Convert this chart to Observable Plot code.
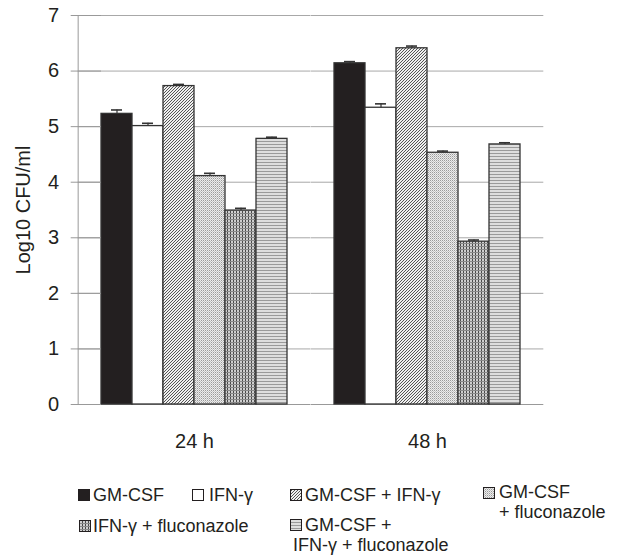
<!DOCTYPE html>
<html><head><meta charset="utf-8">
<script src="https://cdn.jsdelivr.net/npm/d3@7"></script>
<script src="https://cdn.jsdelivr.net/npm/@observablehq/plot@0.6"></script>
<style>
body{margin:0;background:#fff;font-family:Arial,"Liberation Sans",sans-serif;}
#wrap{position:relative;width:619px;height:559px;overflow:hidden}
.lt{position:absolute;font-size:18px;line-height:20.7px;color:#231f20;white-space:nowrap}
</style></head><body>
<svg width="0" height="0" style="position:absolute">
<defs>
<pattern id="p-diag" patternUnits="userSpaceOnUse" width="3" height="3">
<rect width="3" height="3" fill="#f0f0f0"/>
<path d="M-1,1 L1,-1 M0,3 L3,0 M2,4 L4,2" stroke="#555" stroke-width="1"/>
</pattern>
<pattern id="p-dots" patternUnits="userSpaceOnUse" width="2" height="2">
<rect width="2" height="2" fill="#ececec"/>
<rect x="0" y="0" width="1" height="1" fill="#9a9a9a"/>
<rect x="1" y="1" width="1" height="1" fill="#c4c4c4"/>
</pattern>
<pattern id="p-grid" patternUnits="userSpaceOnUse" width="3" height="3">
<rect width="3" height="3" fill="#cfcfcf"/>
<rect x="0" y="0" width="1" height="3" fill="#4a4a4a"/>
<rect x="0" y="0" width="3" height="1" fill="#8a8a8a"/>
</pattern>
<pattern id="p-horiz" patternUnits="userSpaceOnUse" width="3" height="3">
<rect width="3" height="3" fill="#dedede"/>
<rect x="0" y="0" width="3" height="1" fill="#9a9a9a"/>
</pattern>
</defs></svg>
<div id="wrap"><div id="chart"></div></div>
<script>
const groups = ["24 h", "48 h"];
const treatments = ["GM-CSF", "IFN-γ", "GM-CSF + IFN-γ", "GM-CSF + fluconazole", "IFN-γ + fluconazole", "GM-CSF + IFN-γ + fluconazole"];
const values24 = [5.23, 5.01, 5.73, 4.11, 3.49, 4.78];
const errors24 = [0.07, 0.05, 0.03, 0.05, 0.04, 0.03];
const values48 = [6.14, 5.34, 6.41, 4.53, 2.93, 4.68];
const errors48 = [0.03, 0.07, 0.04, 0.03, 0.03, 0.03];
const yTicks = [0, 1, 2, 3, 4, 5, 6, 7];
const fills = ["#231f20", "#ffffff", "url(#p-diag)", "url(#p-dots)", "url(#p-grid)", "url(#p-horiz)"];

const data = groups.flatMap((g, gi) => treatments.map((t, i) => ({
  group: g, treatment: t,
  value: gi === 0 ? values24[i] : values48[i],
  err: gi === 0 ? errors24[i] : errors48[i]
})));
const gridData = groups.flatMap(g => yTicks.map(v => ({group: g, v})));

const W = 619, H = 470, ML = 78, MR = 75, MT = 15, MB = 66;
const fxOpts = {domain: groups, paddingInner: 0.2, paddingOuter: 0.1};
const band = d3.scaleBand(groups, [ML, W - MR]).paddingInner(fxOpts.paddingInner).paddingOuter(fxOpts.paddingOuter);
const half = -(band.step() - band.bandwidth()) / 2; // negative inset reaching the frame edges
const barW = band.bandwidth() / treatments.length;

const chart = Plot.plot({
  width: W, height: H,
  marginLeft: ML, marginRight: MR, marginTop: MT, marginBottom: MB,
  style: {fontFamily: "Arial, 'Liberation Sans', sans-serif", fontSize: "20px", color: "#231f20", background: "white"},
  fx: {...fxOpts, label: null},
  x: {domain: treatments, padding: 0, axis: null},
  y: {domain: [0, 7], label: null, axis: null},
  color: {domain: treatments, range: fills},
  marks: [
    Plot.ruleY(gridData.filter(d => d.v > 0), {fx: "group", y: "v", stroke: "#a8a8a8", strokeWidth: 1, insetLeft: half, insetRight: half}),
    Plot.ruleY(gridData.filter(d => d.v === 0), {fx: "group", y: "v", stroke: "#999", strokeWidth: 1.2, insetLeft: half, insetRight: half}),
    // left axis line, anchored to the first facet's first band and shifted to the frame edge
    Plot.ruleX([{group: groups[0], t: treatments[0]}], {fx: "group", x: "t", y1: 0, y2: 7, dx: half - barW / 2, stroke: "#999", strokeWidth: 1}),
    Plot.barY(data, {fx: "group", x: "treatment", y: "value", fill: "treatment", stroke: "#333", strokeWidth: 1.3}),
    Plot.ruleX(data, {fx: "group", x: "treatment", y1: "value", y2: d => d.value + d.err, stroke: "#333", strokeWidth: 1.2}),
    Plot.tickY(data, {fx: "group", x: "treatment", y: d => d.value + d.err, stroke: "#333", strokeWidth: 1.6, insetLeft: 10, insetRight: 10}),
    Plot.axisY({ticks: yTicks, tickSize: 7 - half, tickPadding: 12, stroke: "#999", tickFormat: d => String(d),
      label: "Log10 CFU/ml", labelAnchor: "center", labelOffset: 62 - half, labelArrow: "none"}),
    Plot.axisFx({anchor: "bottom", tickSize: 0, tickPadding: 29, label: null})
  ]
});
document.getElementById("chart").appendChild(chart);

// legend
const wrap = document.getElementById("wrap");
const legendItems = [
  {i: 0, sx: 78, sy: 489, x: 93, base: 501, lines: ["GM-CSF"]},
  {i: 1, sx: 192, sy: 489, x: 209, base: 501, lines: ["IFN-γ"]},
  {i: 2, sx: 290, sy: 489, x: 305, base: 501, lines: ["GM-CSF + IFN-γ"]},
  {i: 3, sx: 483, sy: 487, x: 499, base: 498, lines: ["GM-CSF", "+ fluconazole"]},
  {i: 4, sx: 79, sy: 520, x: 93, base: 532, lines: ["IFN-γ + fluconazole"]},
  {i: 5, sx: 290, sy: 519, x: 293, indent: 12, base: 531, lines: ["GM-CSF +", "IFN-γ + fluconazole"]}
];
legendItems.forEach(it => {
  const s = document.createElementNS("http://www.w3.org/2000/svg", "svg");
  s.setAttribute("width", 12); s.setAttribute("height", 12);
  s.style.position = "absolute"; s.style.left = it.sx + "px"; s.style.top = it.sy + "px";
  const r = document.createElementNS("http://www.w3.org/2000/svg", "rect");
  r.setAttribute("x", 0.5); r.setAttribute("y", 0.5); r.setAttribute("width", 11); r.setAttribute("height", 11);
  r.setAttribute("fill", fills[it.i]); r.setAttribute("stroke", "#231f20"); r.setAttribute("stroke-width", 1);
  s.appendChild(r);
  wrap.appendChild(s);
  const d = document.createElement("div");
  d.className = "lt";
  it.lines.forEach((txt, k) => {
    if (k > 0) d.appendChild(document.createElement("br"));
    d.appendChild(document.createTextNode(txt));
  });
  d.style.left = it.x + "px";
  d.style.top = (it.base - 16.3) + "px";
  if (it.indent) d.style.textIndent = it.indent + "px";
  wrap.appendChild(d);
});
</script>
</body></html>
